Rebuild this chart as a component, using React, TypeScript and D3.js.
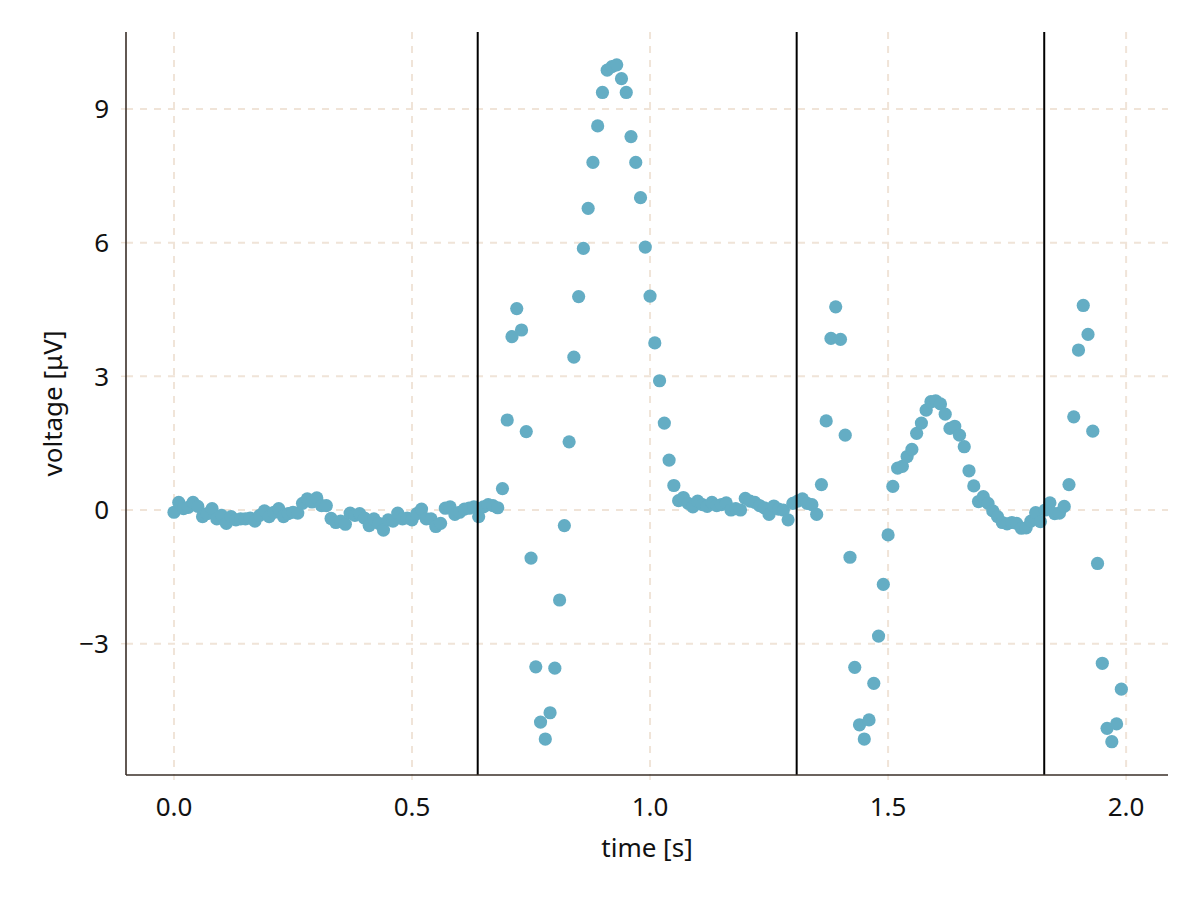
import React from "react";
import * as d3 from "d3";

// sample period of the recording (s)
const SAMPLE_STEP = 0.01;

// voltage samples [µV], one every 10 ms starting at t = 0
const voltage: number[] = [
  -0.05, 0.17, 0.03, 0.06, 0.17, 0.08, -0.15, -0.08, 0.03, -0.2,
  -0.12, -0.3, -0.15, -0.22, -0.2, -0.2, -0.18, -0.25, -0.12, -0.02,
  -0.15, -0.05, 0.03, -0.15, -0.08, -0.05, -0.07, 0.15, 0.25, 0.18,
  0.27, 0.1, 0.1, -0.19, -0.28, -0.25, -0.32, -0.07, -0.12, -0.08,
  -0.18, -0.35, -0.2, -0.3, -0.45, -0.22, -0.25, -0.07, -0.2, -0.18,
  -0.22, -0.08, 0.02, -0.2, -0.2, -0.37, -0.3, 0.04, 0.07, -0.1,
  -0.05, 0.02, 0.04, 0.07, -0.15, 0.07, 0.12, 0.1, 0.05, 0.48,
  2.02, 3.89, 4.52, 4.04, 1.76, -1.08, -3.52, -4.76, -5.14, -4.55,
  -3.55, -2.02, -0.35, 1.53, 3.43, 4.79, 5.87, 6.77, 7.8, 8.62,
  9.37, 9.87, 9.95, 9.99, 9.68, 9.37, 8.38, 7.8, 7.01, 5.9,
  4.8, 3.75, 2.9, 1.95, 1.12, 0.55, 0.21, 0.28, 0.15, 0.07,
  0.2, 0.12, 0.08, 0.17, 0.1, 0.12, 0.16, 0.0, 0.03, 0.0,
  0.26, 0.2, 0.17, 0.1, 0.05, -0.1, 0.09, 0.02, 0.0, -0.22,
  0.15, 0.2, 0.25, 0.15, 0.12, -0.1, 0.57, 2.0, 3.85, 4.56,
  3.83, 1.68, -1.06, -3.53, -4.82, -5.14, -4.71, -3.89, -2.83, -1.67,
  -0.56, 0.53, 0.94, 0.98, 1.2, 1.36, 1.72, 1.95, 2.24, 2.43,
  2.45, 2.38, 2.15, 1.83, 1.88, 1.68, 1.42, 0.88, 0.54, 0.19,
  0.3, 0.15, -0.02, -0.15, -0.28, -0.31, -0.28, -0.3, -0.41, -0.4,
  -0.25, -0.06, -0.26, 0.0, 0.16, -0.08, -0.07, 0.08, 0.57, 2.09,
  3.59, 4.59, 3.94, 1.77, -1.2, -3.44, -4.9, -5.2, -4.8, -4.02,
];

// detected beat markers (s)
const beatTimes: number[] = [0.638, 1.308, 1.828];

// axis ticks
const xTicks: number[] = [0.0, 0.5, 1.0, 1.5, 2.0];
const yTicks: number[] = [-3, 0, 3, 6, 9];

const xLabel = "time [s]";
const yLabel = "voltage [μV]";

const W = 1200;
const H = 900;
const M = { left: 126, right: 32, top: 32, bottom: 125 };

const FONT = "'Noto Sans', sans-serif";
const FS = 26;
const DOT = "#64adc4";
const GRID = "#f0e4d8";
const SPINE = "#3a2f28";

export default function App() {
  const x = d3
    .scaleLinear()
    .domain([-0.1008, 2.088])
    .range([M.left, W - M.right]);
  const y = d3
    .scaleLinear()
    .domain([-5.947, 10.727])
    .range([H - M.bottom, M.top]);

  const points = voltage.map((v, i) => ({ t: i * SAMPLE_STEP, v }));
  const x0 = M.left;
  const x1 = W - M.right;
  const y0 = H - M.bottom;
  const y1 = M.top;

  const fmtX = d3.format(".1f");
  const fmtY = (d: number) => (d < 0 ? "\u2212" + Math.abs(d) : String(d));

  return (
    <svg
      width={W}
      height={H}
      style={{ position: "absolute", left: 0, top: 0, background: "#fff" }}
      fontFamily={FONT}
    >
      {/* grid */}
      <g stroke={GRID} strokeWidth={2} strokeDasharray="7,7">
        {xTicks.map((t) => (
          <line key={"gx" + t} x1={x(t)} x2={x(t)} y1={y1} y2={y0} />
        ))}
        {yTicks.map((t) => (
          <line key={"gy" + t} x1={x0} x2={x1} y1={y(t)} y2={y(t)} />
        ))}
      </g>

      {/* ticks */}
      <g stroke={GRID} strokeWidth={1.5}>
        {xTicks.map((t) => (
          <line key={"tx" + t} x1={x(t)} x2={x(t)} y1={y0} y2={y0 + 5} />
        ))}
        {yTicks.map((t) => (
          <line key={"ty" + t} x1={x0 - 5} x2={x0} y1={y(t)} y2={y(t)} />
        ))}
      </g>

      {/* points */}
      <g fill={DOT}>
        {points.map((p, i) => (
          <circle key={i} cx={x(p.t)} cy={y(p.v)} r={6.6} />
        ))}
      </g>

      {/* beat lines */}
      <g stroke="#000" strokeWidth={2}>
        {beatTimes.map((t) => (
          <line key={"b" + t} x1={x(t)} x2={x(t)} y1={y1} y2={y0} />
        ))}
      </g>

      {/* spines */}
      <g stroke={SPINE} strokeWidth={1.6}>
        <line x1={x0} x2={x0} y1={y1} y2={y0} />
        <line x1={x0} x2={x1} y1={y0} y2={y0} />
      </g>

      {/* tick labels */}
      <g fontSize={FS} fill="#111">
        {xTicks.map((t) => (
          <text key={"lx" + t} x={x(t)} y={y0 + 41} textAnchor="middle">
            {fmtX(t)}
          </text>
        ))}
        {yTicks.map((t) => (
          <text
            key={"ly" + t}
            x={x0 - 17}
            y={y(t)}
            dy="0.36em"
            textAnchor="end"
          >
            {fmtY(t)}
          </text>
        ))}
      </g>

      {/* axis labels */}
      <text
        x={(x0 + x1) / 2}
        y={y0 + 82}
        textAnchor="middle"
        fontSize={FS}
        fill="#111"
      >
        {xLabel}
      </text>
      <text
        transform={`translate(${62},${(y0 + y1) / 2}) rotate(-90)`}
        textAnchor="middle"
        fontSize={FS}
        fill="#111"
      >
        {yLabel}
      </text>
    </svg>
  );
}
